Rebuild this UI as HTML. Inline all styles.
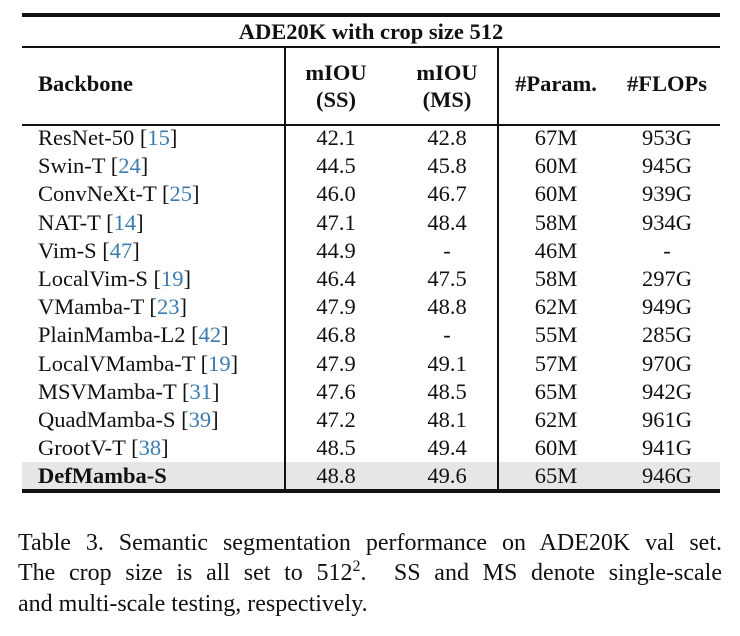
<!DOCTYPE html>
<html><head><meta charset="utf-8"><style>
body{margin:0;width:740px;height:636px;background:#fff;position:relative;overflow:hidden;font-family:"Liberation Serif",serif;color:#111}
.a{position:absolute;white-space:nowrap}
.r{position:absolute;background:#111}
.c{position:absolute;transform:translateX(-50%);text-align:center;white-space:nowrap}
.t{font-size:22.5px;line-height:24px}
.b{font-weight:bold}
.ref{color:#3b7bb0}
.cap{position:absolute;left:18px;width:704px;font-size:24px;line-height:30px;text-align:justify;text-align-last:justify;white-space:nowrap}
</style></head><body>
<div class="r" style="left:22px;top:13px;width:698px;height:4px"></div>
<div class="c t b" style="left:371px;top:20px">ADE20K with crop size 512</div>
<div class="r" style="left:22px;top:46px;width:698px;height:2px"></div>
<div class="a t b" style="left:38px;top:72px">Backbone</div>
<div class="c t b" style="left:336px;top:59px;line-height:27px">mIOU<br>(SS)</div>
<div class="c t b" style="left:447px;top:59px;line-height:27px">mIOU<br>(MS)</div>
<div class="c t b" style="left:556px;top:72px">#Param.</div>
<div class="c t b" style="left:667px;top:72px">#FLOPs</div>
<div class="r" style="left:22px;top:124px;width:698px;height:2px"></div>
<div class="a" style="left:22px;top:462px;width:698px;height:28px;background:#e6e6e6"></div>
<div class="r" style="left:284px;top:48px;width:2px;height:442px"></div>
<div class="r" style="left:497px;top:48px;width:2px;height:442px"></div>
<div class="r" style="left:22px;top:489px;width:698px;height:4px"></div>
<div id="rows"></div>
<div class="cap" style="top:528px">Table 3. Semantic segmentation performance on ADE20K val set.</div>
<div class="cap" style="top:558px">The crop size is all set to 512<sup style="font-size:16px;line-height:0">2</sup>. &nbsp;SS and MS denote single-scale</div>
<div class="cap" style="top:589px;text-align-last:left">and multi-scale testing, respectively.</div>
<script>
const names=["ResNet-50","Swin-T","ConvNeXt-T","NAT-T","Vim-S","LocalVim-S","VMamba-T","PlainMamba-L2","LocalVMamba-T","MSVMamba-T","QuadMamba-S","GrootV-T","DefMamba-S"];
const refs=["15","24","25","14","47","19","23","42","19","31","39","38",""];
const ss=["42.1","44.5","46.0","47.1","44.9","46.4","47.9","46.8","47.9","47.6","47.2","48.5","48.8"];
const ms=["42.8","45.8","46.7","48.4","-","47.5","48.8","-","49.1","48.5","48.1","49.4","49.6"];
const params=["67M","60M","60M","58M","46M","58M","62M","55M","57M","65M","62M","60M","65M"];
const flops=["953G","945G","939G","934G","-","297G","949G","285G","970G","942G","961G","941G","946G"];
const host=document.getElementById('rows');
names.forEach((n,i)=>{
  const top=126+i*28.2;
  const last=i===names.length-1;
  const d=document.createElement('div');
  d.className='a t'+(last?' b':'');
  d.style.left='38px';d.style.top=top+'px';
  d.innerHTML=n+(refs[i]?' [<span class="ref">'+refs[i]+'</span>]':'');
  
  
  host.appendChild(d);
  [[ss,336,'miou-ss'],[ms,447,'miou-ms'],[params,556,'params'],[flops,667,'flops']].forEach(([arr,x,nm])=>{
    const c=document.createElement('div');
    c.className='c t';
    c.style.left=x+'px';c.style.top=top+'px';
    c.textContent=arr[i];
    
    
    host.appendChild(c);
  });
});
</script>
</body></html>
